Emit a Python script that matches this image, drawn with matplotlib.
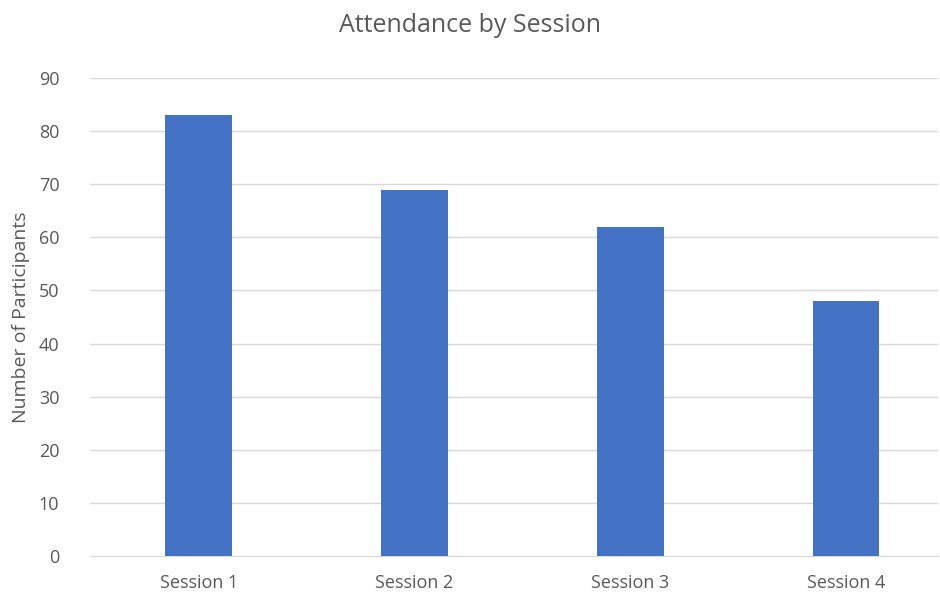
import matplotlib
matplotlib.use('Agg')
import matplotlib.pyplot as plt
import numpy as np

sessions = ['Session 1', 'Session 2', 'Session 3', 'Session 4']
participants = [83, 69, 62, 48]
yticks = [0, 10, 20, 30, 40, 50, 60, 70, 80, 90]

plt.rcParams['font.family'] = ['Open Sans', 'DejaVu Sans']
txt = '#595959'

fig = plt.figure(figsize=(9.4, 5.96), dpi=100)
ax = fig.add_axes([0.0957, 0.0671, 0.902, 0.802])

x = np.arange(len(sessions))
ax.bar(x, participants, width=0.31, color='#4472C4', zorder=3)

ax.set_xlim(-0.505, 3.426)
ax.set_ylim(0, 90)
ax.set_yticks(yticks)
ax.set_xticks(x)
ax.set_xticklabels(sessions)
ax.grid(axis='y', color='#D9D9D9', linewidth=1, zorder=0)
for s in ['top', 'right', 'left']:
    ax.spines[s].set_visible(False)
ax.spines['bottom'].set_color('#D9D9D9')
ax.tick_params(axis='both', length=0, colors=txt, labelsize=13)
ax.tick_params(axis='x', pad=13)
ax.tick_params(axis='y', pad=22)

ax.set_ylabel('Number of Participants', color=txt, fontsize=14, labelpad=6)
fig.text(0.5, 0.957, 'Attendance by Session', ha='center', va='center',
         color=txt, fontsize=18)

fig.savefig('out.png', dpi=100)
